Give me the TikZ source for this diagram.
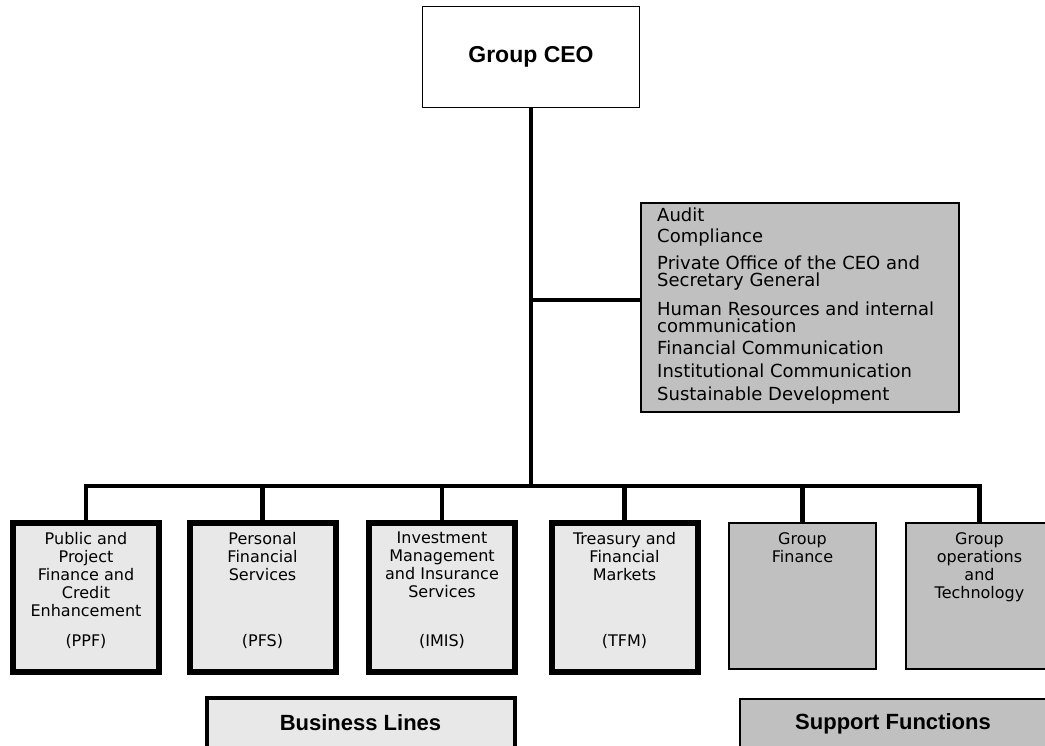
\documentclass[tikz,border=0pt]{standalone}
\usepackage{fontspec}
\setmainfont{DejaVu Sans}
\newfontfamily\titlefont{Liberation Sans}
\usetikzlibrary{positioning}
\definecolor{bizfill}{HTML}{E8E8E8}
\definecolor{supfill}{HTML}{C0C0C0}
\begin{document}
\begin{tikzpicture}[x=1pt,y=-1pt,
    ceo node/.style={draw,line width=1.5pt,fill=white,minimum width=217pt,minimum height=101pt,
      font=\titlefont\bfseries\fontsize{23}{27}\selectfont},
    staff node/.style={draw,line width=1.5pt,fill=supfill,minimum width=318pt,minimum height=209pt},
    staff text/.style={anchor=west,align=left,inner sep=0pt,font=\fontsize{18}{17}\selectfont},
    biz node/.style={draw,line width=6pt,fill=bizfill,minimum width=146pt,minimum height=149pt},
    sup node/.style={draw,line width=1.5pt,fill=supfill,minimum width=147pt,minimum height=146pt},
    box text/.style={align=center,anchor=north,inner sep=0pt,font=\fontsize{16}{18}\selectfont},
    abbr text/.style={inner sep=0pt,font=\fontsize{16}{18}\selectfont},
    legend/.style={minimum height=50pt,font=\titlefont\bfseries\fontsize{22}{26}\selectfont},
    link/.style={line width=4.5pt}]

  \useasboundingbox (0,0) rectangle (1045,746);
  \clip (0,0) rectangle (1045,746);

  % top of the chart
  \node[ceo node] (ceo) at (531,57) {Group CEO};
  \node[staff node] (staff) at (800,307.5) {};
  \foreach \y/\t [count=\i] in {215/Audit, 238/Compliance,
      273/{Private Office of the CEO and\\Secretary General},
      317/{Human Resources and internal\\communication},
      348/Financial Communication, 371/Institutional Communication,
      396/Sustainable Development}
    \node[staff text] (item\i) at (657,\y) {\t};

  % business lines
  \node[biz node] (ppf) at (86,597.5) {};
  \node[biz node] (pfs) at (262.5,597.5) {};
  \node[biz node] (imis) at (442,597.5) {};
  \node[biz node] (tfm) at (624.5,597.5) {};
  \node[box text] (ppf text) at (86,532) {Public and\\Project\\Finance and\\Credit\\Enhancement};
  \node[box text] (pfs text) at (262.5,532) {Personal\\Financial\\Services};
  \node[box text] (imis text) at (442,532) {Investment\\Management\\and Insurance\\Services};
  \node[box text] (tfm text) at (624.5,532) {Treasury and\\Financial\\Markets};
  \foreach \n/\a in {ppf/PPF, pfs/PFS, imis/IMIS, tfm/TFM}
    \node[abbr text] (\n\space abbr) at (\n.center |- 0,641) {(\a)};

  % support functions
  \node[sup node] (gf) at (802.5,596) {};
  \node[sup node] (got) at (979.5,596) {};
  \node[box text] (gf text) at (802.5,532) {Group\\Finance};
  \node[box text] (got text) at (979.5,532) {Group\\operations\\and\\Technology};

  % legend
  \node[legend,draw,line width=4pt,fill=bizfill,minimum width=308pt] (bl) at (360.5,723) {Business Lines};
  \node[legend,draw,line width=1.5pt,fill=supfill,minimum width=306pt] (sf) at (893,724) {Support Functions};

  % connectors
  \coordinate (hub) at (531,300);
  \coordinate (bus) at (531,486);
  \draw[link] (ceo.south) -- (bus);
  \draw[link] (hub) -- (hub -| staff.west);
  \draw[link] (ppf.north) |- (bus) -| (got.north);
  \foreach \n in {pfs,imis,tfm,gf}
    \draw[link] (\n.north) -- (\n.north |- bus);
\end{tikzpicture}
\end{document}
